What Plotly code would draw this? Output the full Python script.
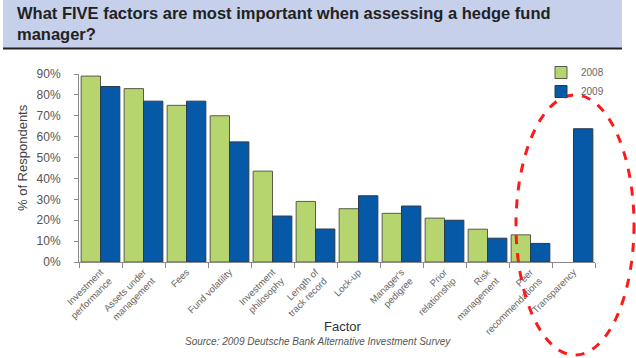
import plotly.graph_objects as go

categories = ["Investment<br>performance", "Assets under<br>management", "Fees", "Fund volatility",
              "Investment<br>philosophy", "Length of<br>track record", "Lock-up", "Manager's<br>pedigree",
              "Prior<br>relationship", "Risk<br>management", "Peer<br>recommendations", "Transparency"]
values_2008 = [89, 83, 75, 70, 43.5, 29, 25.5, 23.3, 21, 15.7, 13, None]
values_2009 = [84, 77, 77, 57.5, 22, 15.8, 31.7, 26.8, 20, 11.4, 8.9, 63.8]
y_ticks = [0, 10, 20, 30, 40, 50, 60, 70, 80, 90]
y_tick_labels = ["0%", "10%", "20%", "30%", "40%", "50%", "60%", "70%", "80%", "90%"]

W, H = 636, 358
L, R, T, B = 79, 41, 74, 96
PW, PH = W - L - R, H - T - B

def px(x):
    return (x - L) / PW

def py(y):
    return (H - B - y) / PH

fig = go.Figure()
fig.add_trace(go.Bar(x=categories, y=values_2008, name="2008",
                     marker=dict(color="#b6d56f", line=dict(color="#5a5a4a", width=1))))
fig.add_trace(go.Bar(x=categories, y=values_2009, name="2009",
                     marker=dict(color="#0559a6", line=dict(color="#2b3a4f", width=1))))

fig.update_layout(
    width=W, height=H,
    margin=dict(l=L, r=R, t=T, b=B, autoexpand=False),
    paper_bgcolor="white", plot_bgcolor="white",
    barmode="group", bargap=0.1, bargroupgap=0,
    font=dict(family="Liberation Sans, Arial, sans-serif", color="#555555"),
    showlegend=True,
    legend=dict(x=px(541), y=py(58), xanchor="left", yanchor="top",
                font=dict(size=10, color="#666666"), bgcolor="rgba(0,0,0,0)",
                itemwidth=30, tracegroupgap=0),
    xaxis=dict(showline=True, linecolor="#8a8a8a", linewidth=1, ticks="outside",
               tickson="boundaries", ticklen=5, tickcolor="#8a8a8a", tickangle=-45,
               tickfont=dict(size=9.5, color="#666666"), showgrid=False),
    yaxis=dict(range=[0, 90], tickvals=y_ticks, ticktext=y_tick_labels, showline=True,
               linecolor="#8a8a8a", linewidth=1, ticks="outside", ticklen=4,
               tickcolor="#8a8a8a", tickfont=dict(size=12, color="#555555"),
               showgrid=False, zeroline=False, ticklabelstandoff=11),
    shapes=[
        dict(type="rect", xref="paper", yref="paper", x0=px(3), x1=px(622), y0=py(0), y1=py(48),
             fillcolor="#c6d0ea", line=dict(width=0), layer="below"),
        dict(type="line", xref="paper", yref="paper", x0=px(3), x1=px(622), y0=py(48.5), y1=py(48.5),
             line=dict(color="#222222", width=2)),
        dict(type="circle", xref="paper", yref="paper", x0=px(516), x1=px(634), y0=py(355), y1=py(95),
             line=dict(color="#ff1a1a", width=3, dash="dash")),
    ],
    annotations=[
        dict(text="<b>What FIVE factors are most important when assessing a hedge fund<br>manager?</b>",
             xref="paper", yref="paper", x=px(15), y=py(2), xanchor="left", yanchor="top",
             align="left", showarrow=False,
             font=dict(size=16.5, color="#222222", family="Liberation Sans, Arial, sans-serif")),
        dict(text="% of Respondents", xref="paper", yref="paper", x=px(22), y=py(158),
             xanchor="center", yanchor="middle",
             textangle=-90, showarrow=False, font=dict(size=13, color="#444444")),
        dict(text="Factor", xref="paper", yref="paper", x=px(343), y=py(326),
             xanchor="center", yanchor="middle",
             showarrow=False, font=dict(size=13, color="#333333")),
        dict(text="<i>Source: 2009 Deutsche Bank Alternative Investment Survey</i>", xref="paper", yref="paper",
             x=px(318), y=py(341), xanchor="center", yanchor="middle",
             showarrow=False, font=dict(size=10, color="#555555")),
    ],
)

fig.write_html("out.html", config={"displayModeBar": False},
               post_script="document.body.style.margin='0';")
